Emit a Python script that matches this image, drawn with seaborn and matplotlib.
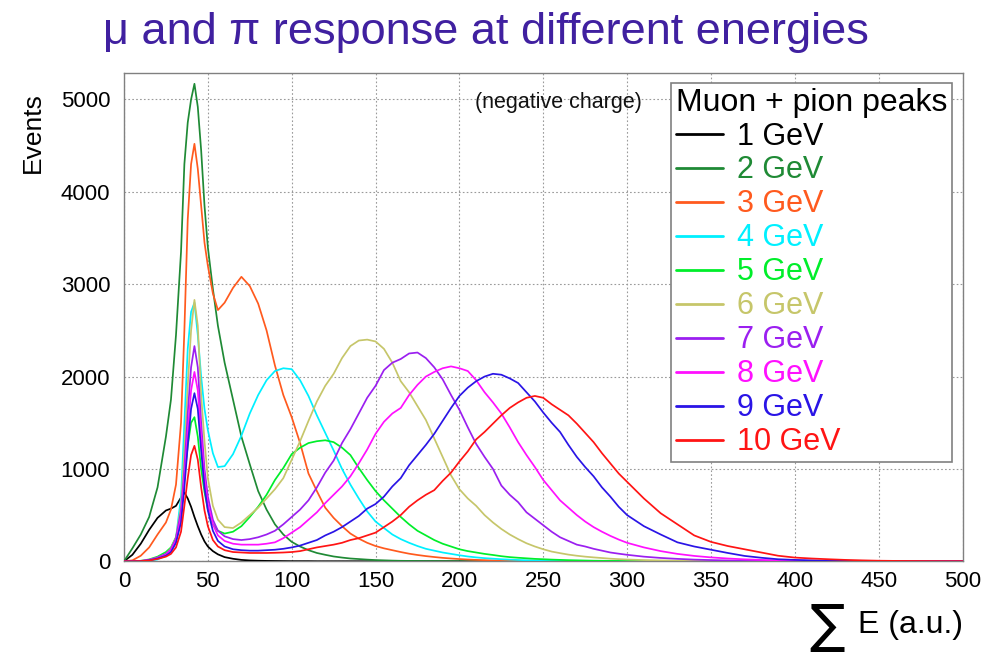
import matplotlib
matplotlib.use("Agg")
import matplotlib.pyplot as plt
from matplotlib.ticker import MultipleLocator
import seaborn as sns
import pandas as pd

# ---------------- data ----------------
sum_e = [0, 5, 10, 15, 20, 25, 28, 31, 34, 36, 38, 40, 42, 44, 46, 48, 50, 53, 56,
         60, 65, 70, 75, 80, 85, 90, 95, 100,
         105, 110, 115, 120, 125, 130, 135, 140, 145, 150,
         155, 160, 165, 170, 175, 180, 185, 190, 195, 200,
         205, 210, 215, 220, 225, 230, 235, 240, 245, 250,
         255, 260, 265, 270, 275, 280, 285, 290, 295, 300,
         310, 320, 330, 340, 350, 360, 370, 380, 390, 400,
         410, 420, 430, 440, 450, 460, 470, 480, 490, 500]

ev_1gev = [0, 70, 190, 340, 470, 550, 570, 600, 690, 745, 680, 590, 480, 380, 290, 215, 160, 110, 75,
           45, 27, 15, 9, 6, 4, 3, 2, 1,
           1, 1, 0, 0, 0, 0, 0, 0, 0, 0,
           0, 0, 0, 0, 0, 0, 0, 0, 0, 0,
           0, 0, 0, 0, 0, 0, 0, 0, 0, 0,
           0, 0, 0, 0, 0, 0, 0, 0, 0, 0,
           0, 0, 0, 0, 0, 0, 0, 0, 0, 0,
           0, 0, 0, 0, 0, 0, 0, 0, 0, 0]

ev_2gev = [0, 140, 290, 480, 800, 1350, 1750, 2450, 3350, 4300, 4750, 5000, 5170, 4920, 4450, 3850, 3400, 2950, 2550,
           2150, 1750, 1350, 1050, 760, 560, 400, 290, 210,
           160, 120, 90, 70, 52, 40, 30, 24, 18, 13,
           10, 7, 5, 4, 3, 2, 2, 1, 1, 0,
           0, 0, 0, 0, 0, 0, 0, 0, 0, 0,
           0, 0, 0, 0, 0, 0, 0, 0, 0, 0,
           0, 0, 0, 0, 0, 0, 0, 0, 0, 0,
           0, 0, 0, 0, 0, 0, 0, 0, 0, 0]

ev_3gev = [0, 10, 60, 150, 290, 420, 560, 830, 1500, 2500, 3700, 4300, 4520, 4250, 3850, 3450, 3200, 2900, 2720,
           2800, 2960, 3080, 2980, 2790, 2500, 2120, 1800, 1560,
           1280, 950, 760, 580, 470, 380, 300, 245, 200, 165,
           140, 120, 100, 82, 68, 56, 46, 37, 30, 24,
           19, 15, 12, 9, 7, 5, 4, 3, 2, 2,
           1, 1, 1, 0, 0, 0, 0, 0, 0, 0,
           0, 0, 0, 0, 0, 0, 0, 0, 0, 0,
           0, 0, 0, 0, 0, 0, 0, 0, 0, 0]

ev_4gev = [0, 0, 0, 5, 20, 60, 120, 250, 700, 1500, 2300, 2700, 2800, 2450, 2000, 1650, 1420, 1170, 1020,
           1030, 1160, 1360, 1600, 1800, 1960, 2060, 2090, 2080,
           1960, 1790, 1580, 1390, 1200, 1000, 830, 680, 540, 430,
           360, 290, 240, 200, 165, 135, 115, 95, 80, 65,
           52, 42, 34, 28, 22, 18, 14, 11, 9, 7,
           5, 4, 3, 3, 2, 2, 1, 1, 1, 0,
           0, 0, 0, 0, 0, 0, 0, 0, 0, 0,
           0, 0, 0, 0, 0, 0, 0, 0, 0, 0]

ev_5gev = [0, 0, 5, 20, 50, 100, 150, 260, 500, 900, 1250, 1500, 1560, 1350, 1000, 750, 560, 400, 330,
           300, 320, 380, 480, 590, 720, 880, 1010, 1160,
           1230, 1280, 1300, 1310, 1290, 1230, 1150, 1010, 880, 760,
           660, 570, 480, 400, 330, 280, 230, 190, 160, 130,
           110, 95, 80, 68, 55, 45, 38, 32, 26, 22,
           18, 15, 12, 10, 8, 6, 5, 4, 3, 3,
           2, 1, 1, 0, 0, 0, 0, 0, 0, 0,
           0, 0, 0, 0, 0, 0, 0, 0, 0, 0]

ev_6gev = [0, 0, 5, 15, 40, 80, 140, 260, 600, 1200, 1900, 2500, 2830, 2550, 1800, 1300, 900, 600, 450,
           370, 360, 420, 500, 580, 680, 780, 900, 1100,
           1300, 1520, 1730, 1900, 2030, 2200, 2330, 2390, 2400, 2380,
           2300, 2150, 1950, 1830, 1680, 1530, 1330, 1130, 930, 780,
           680, 600, 500, 420, 350, 290, 240, 195, 160, 130,
           105, 88, 72, 60, 50, 42, 35, 28, 23, 19,
           13, 9, 6, 4, 3, 2, 1, 1, 0, 0,
           0, 0, 0, 0, 0, 0, 0, 0, 0, 0]

ev_7gev = [0, 0, 3, 15, 40, 80, 130, 250, 550, 1000, 1600, 2100, 2330, 2100, 1500, 1000, 700, 450, 330,
           270, 240, 230, 240, 260, 290, 330, 400, 480,
           560, 660, 800, 960, 1090, 1280, 1430, 1600, 1770, 1900,
           2070, 2150, 2190, 2250, 2260, 2200, 2100, 1970, 1800, 1640,
           1450, 1270, 1130, 1000, 820, 720, 640, 530, 460, 390,
           320, 260, 220, 180, 160, 135, 115, 95, 82, 70,
           50, 36, 26, 18, 13, 9, 6, 4, 3, 2,
           1, 1, 0, 0, 0, 0, 0, 0, 0, 0]

ev_8gev = [0, 0, 3, 12, 35, 70, 120, 220, 480, 900, 1400, 1850, 2050, 1850, 1350, 900, 620, 400, 280,
           220, 190, 180, 180, 180, 190, 205, 250, 310,
           370, 450, 530, 630, 720, 810, 920, 1060, 1210, 1380,
           1510, 1600, 1660, 1800, 1910, 2000, 2050, 2090, 2110, 2090,
           2060, 1960, 1830, 1720, 1600, 1450, 1290, 1150, 1020, 880,
           770, 660, 580, 500, 430, 370, 320, 275, 235, 200,
           150, 110, 80, 58, 42, 30, 21, 15, 10, 7,
           5, 3, 2, 1, 1, 0, 0, 0, 0, 0]

ev_9gev = [0, 0, 2, 10, 30, 60, 100, 200, 420, 800, 1250, 1650, 1820, 1650, 1200, 800, 550, 330, 220,
           160, 130, 120, 115, 115, 120, 125, 135, 150,
           170, 200, 230, 280, 320, 370, 430, 490, 570, 620,
           700, 810, 900, 1040, 1150, 1260, 1380, 1520, 1660, 1790,
           1880, 1950, 2000, 2030, 2020, 1980, 1930, 1830, 1730, 1610,
           1500, 1400, 1260, 1130, 1020, 920, 800, 700, 590, 500,
           380, 290, 205, 160, 125, 90, 58, 38, 22, 15,
           10, 6, 4, 2, 1, 0, 0, 0, 0, 0]

ev_10gev = [0, 0, 2, 8, 25, 50, 80, 150, 320, 600, 900, 1150, 1250, 1100, 800, 550, 380, 230, 160,
            120, 100, 95, 90, 90, 90, 92, 95, 100,
            110, 130, 150, 165, 180, 200, 230, 250, 280, 310,
            370, 430, 500, 590, 660, 720, 770, 870, 960, 1080,
            1190, 1320, 1400, 1490, 1580, 1660, 1720, 1770, 1790, 1770,
            1700, 1640, 1580, 1490, 1390, 1290, 1170, 1060, 950, 860,
            680, 520, 400, 280, 210, 165, 130, 95, 60, 40,
            30, 22, 15, 10, 6, 4, 3, 2, 1, 1]

energy_labels = ["1 GeV", "2 GeV", "3 GeV", "4 GeV", "5 GeV",
                 "6 GeV", "7 GeV", "8 GeV", "9 GeV", "10 GeV"]
series = [ev_1gev, ev_2gev, ev_3gev, ev_4gev, ev_5gev,
          ev_6gev, ev_7gev, ev_8gev, ev_9gev, ev_10gev]

colors = ["#000000", "#1f8a35", "#ff5a1e", "#00f0ff", "#00ee2a",
          "#c6c66a", "#9b1ff0", "#ff10ff", "#2a14e6", "#ff1414"]

rows = []
for lab, vals in zip(energy_labels, series):
    for xv, yv in zip(sum_e, vals):
        rows.append({"E": xv, "Events": yv, "Energy": lab})
df = pd.DataFrame(rows)

# ---------------- figure ----------------
sns.set_style("white")
plt.rcParams["font.family"] = ["Liberation Sans", "DejaVu Sans"]
plt.rcParams["text.color"] = "black"
plt.rcParams["xtick.labelcolor"] = "black"
plt.rcParams["ytick.labelcolor"] = "black"

fig = plt.figure(figsize=(9.92, 6.55), dpi=100)
ax = fig.add_axes([0.125, 0.1431, 0.8453, 0.7459])

sns.lineplot(data=df, x="E", y="Events", hue="Energy", hue_order=energy_labels,
             palette=colors, estimator=None, linewidth=1.25, ax=ax, zorder=3)

ax.set_xlim(0, 500)
ax.set_ylim(0, 5290)
ax.xaxis.set_major_locator(MultipleLocator(50))
ax.xaxis.set_minor_locator(MultipleLocator(10))
ax.yaxis.set_major_locator(MultipleLocator(1000))
ax.yaxis.set_minor_locator(MultipleLocator(200))

ax.grid(True, which="major", linestyle=(0, (1.5, 2.0)), color="#9a9a9a", linewidth=0.8)
ax.set_axisbelow(True)

for sp in ax.spines.values():
    sp.set_color("#808080")
    sp.set_linewidth(1.0)

ax.tick_params(axis="y", which="major", direction="in", length=16, width=1.0,
               color="#808080", labelsize=16, pad=10, labelcolor="black")
ax.tick_params(axis="y", which="minor", direction="in", length=8, width=1.0, color="#808080")
ax.tick_params(axis="x", which="major", direction="in", length=12, width=1.0,
               color="#808080", labelsize=16, pad=7, labelcolor="black")
ax.tick_params(axis="x", which="minor", direction="in", length=6, width=1.0, color="#808080")

ax.set_xlabel("")
ax.set_ylabel("")

# Legend
handles, labels = ax.get_legend_handles_labels()
leg = ax.legend(handles, labels, title="Muon + pion peaks", loc="upper right",
                bbox_to_anchor=(0.987, 0.979), borderaxespad=0.0,
                fontsize=22, title_fontsize=23, alignment="left",
                handlelength=1.55, handletextpad=0.45, labelspacing=0.13,
                frameon=True, fancybox=False, framealpha=1.0,
                edgecolor="#808080", borderpad=0.15)
leg.get_frame().set_linewidth(1.2)
leg.get_title().set_color("black")
for t, c in zip(leg.get_texts(), colors):
    t.set_color(c)
for h in leg.get_lines():
    h.set_linewidth(2.0)

ax.text(0.518, 0.938, "(negative charge)", transform=ax.transAxes,
        ha="center", va="center", fontsize=15.5, color="#111111")

# Title
fig.text(0.49, 0.950, "\u03bc and \u03c0 response at different energies",
         ha="center", va="center", fontsize=32.5, color="#4020a0")

# Axis labels
fig.text(33 / 992, 1 - 133 / 655, "Events", rotation=90, ha="center", va="center",
         fontsize=19, color="black")
fig.text(845 / 992, 1 - 627 / 655, "\u2211", ha="right", va="center",
         fontsize=38, color="black", family=["DejaVu Sans"])
fig.text(963 / 992, 1 - 625 / 655, "E (a.u.)", ha="right", va="center",
         fontsize=23, color="black")

fig.savefig("out.png", dpi=100)
